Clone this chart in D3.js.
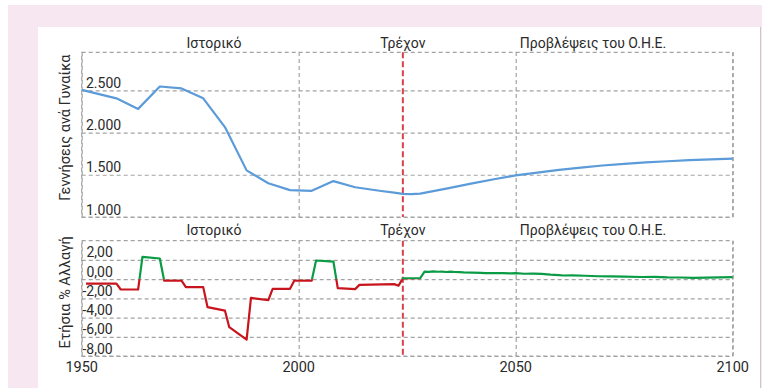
<!DOCTYPE html>
<html>
<head>
<meta charset="utf-8">
<script src="https://cdn.jsdelivr.net/npm/d3@7"></script>
<style>
  html, body { margin: 0; padding: 0; background: #ffffff; }
  svg { display: block; font-family: Roboto, "Noto Sans", sans-serif; }
</style>
</head>
<body>
<svg id="chart" width="762" height="388"></svg>
<script>
// Total fertility rate (births per woman), vertices of the yearly series
const tfrYears  = [1950, 1958, 1963, 1968, 1973, 1978, 1983, 1988, 1993, 1998, 2003, 2008, 2013, 2019, 2022, 2024, 2026, 2028, 2034, 2040, 2045, 2050, 2055, 2060, 2065, 2070, 2075, 2080, 2085, 2090, 2095, 2100];
const tfrValues = [2.505, 2.405, 2.280, 2.545, 2.522, 2.405, 2.065, 1.552, 1.400, 1.318, 1.310, 1.425, 1.352, 1.308, 1.288, 1.274, 1.270, 1.276, 1.335, 1.398, 1.447, 1.492, 1.525, 1.558, 1.585, 1.610, 1.630, 1.646, 1.660, 1.673, 1.683, 1.691];

// Annual % change of the fertility rate, vertices of the yearly series
const chgYears  = [1951, 1958, 1959, 1963, 1964, 1968, 1969, 1973, 1974, 1978, 1979, 1983, 1984, 1988, 1989, 1993, 1994, 1998, 1999, 2003, 2004, 2008, 2009, 2013, 2014, 2022, 2023, 2024, 2028, 2029, 2030, 2031, 2032, 2033, 2034, 2035, 2036, 2037, 2038, 2040, 2042, 2043, 2045, 2047, 2049, 2050, 2052, 2054, 2056, 2058, 2060, 2061, 2063, 2066, 2069, 2072, 2075, 2079, 2082, 2085, 2088, 2091, 2094, 2097, 2100];
const chgValues = [-0.46, -0.46, -1.08, -1.08, 2.32, 2.15, -0.15, -0.15, -0.83, -0.83, -2.92, -3.27, -5.00, -6.30, -1.95, -2.19, -1.01, -1.01, -0.15, -0.15, 1.94, 1.83, -0.94, -1.04, -0.60, -0.52, -0.68, 0.08, 0.10, 0.79, 0.76, 0.80, 0.77, 0.79, 0.74, 0.78, 0.74, 0.72, 0.70, 0.68, 0.66, 0.62, 0.64, 0.62, 0.60, 0.62, 0.56, 0.58, 0.55, 0.46, 0.42, 0.38, 0.40, 0.35, 0.30, 0.28, 0.26, 0.22, 0.24, 0.18, 0.17, 0.14, 0.15, 0.18, 0.20];

// Axis ticks and period labels
const xTicks = [1950, 2000, 2050, 2100];
const tfrTicks = [1.0, 1.5, 2.0, 2.5];
const chgTicks = [-8, -6, -4, -2, 0, 2];
const currentYear = 2024;
const periodLabels = ["Ιστορικό", "Τρέχον", "Προβλέψεις του Ο.Η.Ε."];
const tfrTitle = "Γεννήσεις ανά Γυναίκα";
const chgTitle = "Ετήσια % Αλλαγή";

const svg = d3.select("#chart");
const W = 762, H = 388;

// page backdrop and white card
svg.append("rect").attr("x", 8).attr("y", 5).attr("width", W - 8).attr("height", H - 5).attr("fill", "#f7e7f0");
svg.append("rect").attr("x", 38).attr("y", 27).attr("width", 723).attr("height", H - 27).attr("fill", "#ffffff");
svg.append("line").attr("x1", 760.5).attr("x2", 760.5).attr("y1", 27).attr("y2", H).attr("stroke", "#c8c8c8");

const left = 81.7, right = 732.7;
const top1 = 52.3, bot1 = 217;
const top2 = 240.7, bot2 = 356;

const x = d3.scaleLinear().domain([1950, 2100]).range([left, right]);
const y1 = d3.scaleLinear().domain([1.0, 2.95]).range([bot1, top1]);
const y2 = d3.scaleLinear().domain([-8, 4]).range([bot2, top2]);

const gridColor = "#a3a3a3";
const textColor = "#2a2a2a";

function gridPanel(yScale, yTicks, t, b) {
  const g = svg.append("g");
  // horizontal grid via axis
  const ga = g.append("g").attr("transform", `translate(${left},0)`)
    .call(d3.axisLeft(yScale).tickValues(yTicks).tickSize(-(right - left)).tickFormat(""));
  // vertical grid via axis
  const gb = g.append("g").attr("transform", `translate(0,${b})`)
    .call(d3.axisBottom(x).tickValues(xTicks).tickSize(-(b - t)).tickFormat(""));
  [ga, gb].forEach(a => {
    a.select(".domain").remove();
    a.selectAll(".tick line")
      .attr("stroke", gridColor).attr("stroke-width", 1.2).attr("stroke-dasharray", "4,3");
  });
  // frame
  g.append("rect").attr("x", left).attr("y", t).attr("width", right - left).attr("height", b - t)
    .attr("fill", "none").attr("stroke", gridColor).attr("stroke-width", 1.2).attr("stroke-dasharray", "4,3");
  // current year marker
  g.append("line").attr("x1", x(currentYear)).attr("x2", x(currentYear)).attr("y1", t).attr("y2", b)
    .attr("stroke", "#d9414a").attr("stroke-width", 2).attr("stroke-dasharray", "6,3");
}

gridPanel(y1, tfrTicks, top1, bot1);
gridPanel(y2, chgTicks, top2, bot2);

// tick labels
const fmtTfr = d3.format(".3f");
const grLocale = d3.formatLocale({ decimal: ",", thousands: ".", grouping: [3], currency: ["", " €"], minus: "-" });
const fmtChg = grLocale.format(".2f");

svg.append("g").selectAll("text").data(tfrTicks).join("text")
  .attr("x", 86).attr("y", d => y1(d) - 2.5)
  .attr("font-size", 14).attr("fill", textColor)
  .text(d => fmtTfr(d));

svg.append("g").selectAll("text").data(chgTicks).join("text")
  .attr("x", d => d < 0 ? 82.5 : 86.5).attr("y", d => y2(d) - 2.5)
  .attr("font-size", 14).attr("fill", textColor)
  .text(d => fmtChg(d));

// x-axis labels
svg.append("g").selectAll("text").data(xTicks).join("text")
  .attr("x", d => x(d)).attr("y", 372).attr("text-anchor", "middle")
  .attr("font-size", 14.5).attr("fill", textColor)
  .text(d => d);

// period labels above each panel
const labelX = [214, x(currentYear), 593];
[48, 234.5].forEach(ly => {
  svg.append("g").selectAll("text").data(periodLabels).join("text")
    .attr("x", (d, i) => labelX[i]).attr("y", ly).attr("text-anchor", "middle")
    .attr("font-size", 14).attr("fill", textColor)
    .text(d => d);
});

// y-axis titles
svg.append("text").attr("transform", `translate(70,${(top1 + bot1) / 2 - 7}) rotate(-90)`)
  .attr("text-anchor", "middle").attr("font-size", 14.5).attr("fill", textColor).text(tfrTitle);
svg.append("text").attr("transform", `translate(70,${(top2 + bot2) / 2 - 6}) rotate(-90)`)
  .attr("text-anchor", "middle").attr("font-size", 14.5).attr("fill", textColor).text(chgTitle);

// fertility rate line
const tfrData = tfrYears.map((yr, i) => ({ yr, v: tfrValues[i] }));
svg.append("path").datum(tfrData)
  .attr("fill", "none").attr("stroke", "#5b9bd9").attr("stroke-width", 2.2)
  .attr("stroke-linejoin", "round")
  .attr("d", d3.line().x(d => x(d.yr)).y(d => y1(d.v)));

// annual change line: green above zero, red below
const chgData = chgYears.map((yr, i) => ({ yr, v: chgValues[i] }));
const defs = svg.append("defs");
defs.append("clipPath").attr("id", "clipPos").append("rect")
  .attr("x", 0).attr("y", 0).attr("width", W).attr("height", y2(0));
defs.append("clipPath").attr("id", "clipNeg").append("rect")
  .attr("x", 0).attr("y", y2(0)).attr("width", W).attr("height", H - y2(0));
const chgLine = d3.line().x(d => x(d.yr)).y(d => y2(d.v));
[["clipPos", "#0a9b45"], ["clipNeg", "#c8141c"]].forEach(([id, col]) => {
  svg.append("path").datum(chgData)
    .attr("clip-path", `url(#${id})`)
    .attr("fill", "none").attr("stroke", col).attr("stroke-width", 2.2)
    .attr("stroke-linejoin", "round")
    .attr("d", chgLine);
});
</script>
</body>
</html>
